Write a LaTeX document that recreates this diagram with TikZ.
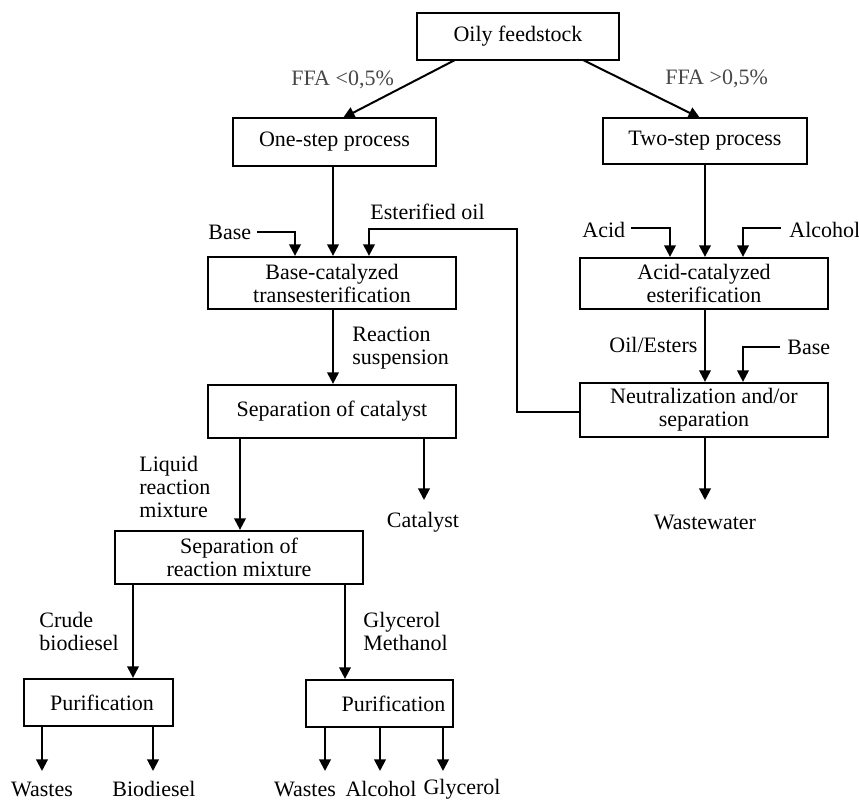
\documentclass[tikz,border=0pt]{standalone}
\usepackage{fontspec}
\setmainfont{Liberation Serif}
\usetikzlibrary{arrows.meta}
\begin{document}
\begin{tikzpicture}[x=0.5pt,y=-0.5pt,
  every node/.style={font=\fontsize{11}{11.5}\selectfont},
  box/.style={draw, line width=1.1pt, inner sep=0pt, align=center},
  lbl/.style={inner sep=0pt, align=left},
  product/.style={inner sep=0pt},
  flow/.style={line width=1pt, -{Triangle[width=5.8pt,length=5.8pt]}},
  link/.style={line width=1pt}]
\useasboundingbox (0,0) rectangle (859,801);

% process boxes
\node[box, minimum width=101pt, minimum height=23.5pt] (feed) at (518,36.5) {Oily feedstock};
\node[box, minimum width=101.5pt, minimum height=24pt] (one) at (334.5,142) {One-step process};
\node[box, minimum width=102pt, minimum height=23pt] (two) at (705,141) {Two-step process};
\node[box, minimum width=124pt, minimum height=26pt] (base) at (332,283) {Base-catalyzed\\transesterification};
\node[box, minimum width=124pt, minimum height=25.5pt] (acid) at (704,283.5) {Acid-catalyzed\\esterification};
\node[box, minimum width=124pt, minimum height=26.5pt] (sepcat) at (332,411.5) {Separation of catalyst};
\node[box, minimum width=124pt, minimum height=27pt] (neut) at (704,410) {Neutralization and/or\\separation};
\node[box, minimum width=124pt, minimum height=26.5pt] (sepmix) at (239,557.5) {Separation of\\reaction mixture};
\node[box, minimum width=74.5pt, minimum height=23.5pt] (pur1) at (98.5,702.5) {\hspace*{3.5pt}Purification};
\node[box, minimum width=73.5pt, minimum height=23.5pt] (pur2) at (379.5,703.5) {\hspace*{14pt}Purification};

% branch conditions
\node[lbl, text=black!72, anchor=west] (ffalo) at (291,80) {FFA <0,5\%};
\node[lbl, text=black!72, anchor=west] (ffahi) at (665,79) {FFA >0,5\%};

% feed lines and stream labels
\node[lbl, anchor=west] (basein) at (208,232) {Base};
\node[lbl, anchor=west] (esterlbl) at (370,212) {Esterified oil};
\node[lbl, anchor=west] (suspl) at (352,348.5) {Reaction\\suspension};
\node[lbl, anchor=west] (liqlbl) at (139,487) {Liquid\\reaction\\mixture};
\node[lbl, anchor=west] (crudelbl) at (39,631.5) {Crude\\biodiesel};
\node[lbl, anchor=west] (glylbl) at (363,631.5) {Glycerol\\Methanol};
\node[lbl, anchor=west] (acidin) at (582,230) {Acid};
\node[lbl, anchor=west] (alcin) at (789,230) {Alcohol};
\node[lbl, anchor=west] (oillbl) at (609,345) {Oil/Esters};
\node[lbl, anchor=west] (basein2) at (787,347) {Base};

% products
\node[product] (catout) at (423,522) {Catalyst};
\node[product] (wwout) at (705,522) {Wastewater};
\node[product] (w1) at (42,789) {Wastes};
\node[product] (bd) at (154,789) {Biodiesel};
\node[product] (w2) at (305,789) {Wastes};
\node[product] (alc) at (381,789) {Alcohol};
\node[product] (gly) at (462,789) {Glycerol};

% free ends of the feed lines
\coordinate (basefeed) at (257,232);
\coordinate (acidfeed) at (631,228);
\coordinate (alcfeed) at (781,228);
\coordinate (basefeed2) at (780,347);
\coordinate (esterturn) at (517,412);

% main route
\draw[flow] (455,60) -- (343,118);
\draw[flow] (583,60) -- (700,118);
\draw[flow] (one.south -| 333,0) -- (base.north -| 333,0);
\draw[flow] (base.south -| 333,0) -- (sepcat.north -| 333,0);
\draw[flow] (sepcat.south -| 240,0) -- (sepmix.north -| 240,0);
\draw[flow] (sepcat.south -| 424,0) -- (424,500);
\draw[flow] (sepmix.south -| 133,0) -- (pur1.north -| 133,0);
\draw[flow] (sepmix.south -| 345,0) -- (pur2.north -| 345,0);

% side feeds into transesterification
\draw[flow] (basefeed) -| (base.north -| 295,0);
\draw[flow] (neut.west |- esterturn) -- (esterturn) |- (369,229) -- (base.north -| 369,0);

% acid route
\draw[flow] (two.south -| 705,0) -- (acid.north -| 705,0);
\draw[flow] (acid.south -| 705,0) -- (neut.north -| 705,0);
\draw[flow] (neut.south -| 705,0) -- (705,500);
\draw[flow] (acidfeed) -| (acid.north -| 670,0);
\draw[flow] (alcfeed) -| (acid.north -| 743,0);
\draw[flow] (basefeed2) -| (neut.north -| 743,0);

% purification outputs
\draw[flow] (pur1.south -| 42,0) -- (42,771);
\draw[flow] (pur1.south -| 153,0) -- (153,771);
\draw[flow] (pur2.south -| 325,0) -- (325,771);
\draw[flow] (pur2.south -| 380,0) -- (380,771);
\draw[flow] (pur2.south -| 443,0) -- (443,771);
\end{tikzpicture}
\end{document}
